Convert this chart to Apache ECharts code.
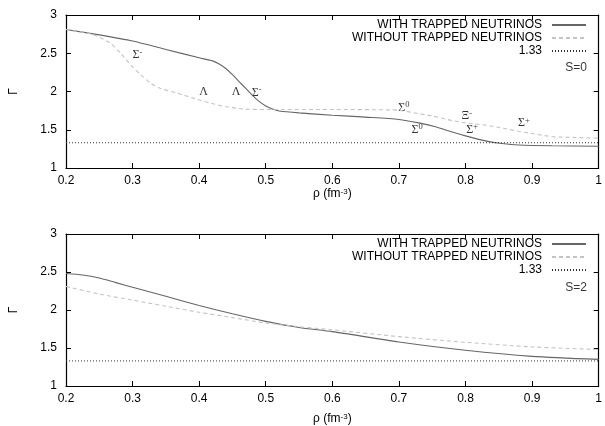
<!DOCTYPE html>
<html><head><meta charset="utf-8">
<script src="https://cdn.jsdelivr.net/npm/echarts@6/dist/echarts.min.js"></script>
<style>html,body{margin:0;padding:0;background:#fff}#c{width:605px;height:426px}</style>
</head><body><div id="c"></div>
<script>
// ---------- data ----------
const seriesNames = ['WITH TRAPPED NEUTRINOS', 'WITHOUT TRAPPED NEUTRINOS', '1.33'];
const refGamma = 1.33;
const xRange = [0.2, 1.0];

// Top panel (S=0)
const topWithRho   = [0.2, 0.25, 0.3, 0.35, 0.4, 0.42, 0.43, 0.44, 0.45, 0.46, 0.47, 0.48, 0.49, 0.5, 0.51, 0.52, 0.55, 0.6, 0.65, 0.7, 0.73, 0.755, 0.78, 0.8, 0.83, 0.855, 0.88, 0.93, 1.0];
const topWithGamma = [2.81, 2.74, 2.66, 2.55, 2.44, 2.40, 2.36, 2.30, 2.22, 2.13, 2.04, 1.95, 1.87, 1.81, 1.77, 1.745, 1.72, 1.69, 1.665, 1.635, 1.59, 1.54, 1.47, 1.42, 1.355, 1.32, 1.30, 1.29, 1.285];
const topWithoutRho   = [0.2, 0.222, 0.242, 0.267, 0.282, 0.297, 0.312, 0.327, 0.342, 0.367, 0.392, 0.416, 0.441, 0.469, 0.5, 0.6, 0.685, 0.7, 0.73, 0.75, 0.78, 0.8, 0.83, 0.85, 0.88, 0.9, 0.93, 0.96, 1.0];
const topWithoutGamma = [2.81, 2.78, 2.74, 2.63, 2.50, 2.35, 2.22, 2.11, 2.04, 1.98, 1.91, 1.85, 1.80, 1.77, 1.765, 1.765, 1.76, 1.755, 1.71, 1.68, 1.62, 1.59, 1.56, 1.53, 1.48, 1.45, 1.41, 1.40, 1.39];
const topAnnBase  = ['Σ', 'Λ', 'Λ', 'Σ', 'Σ', 'Σ', 'Ξ', 'Σ', 'Σ'];
const topAnnSup   = ['-', '', '', '-', '0', '0', '-', '+', '+'];
const topAnnRho   = [0.306, 0.406, 0.455, 0.485, 0.705, 0.725, 0.80, 0.807, 0.885];
const topAnnGamma = [2.48, 2.0, 2.0, 1.985, 1.79, 1.50, 1.68, 1.50, 1.59];
const topTag = {text: 'S=0', rho: 0.966, gamma: 2.31};

// Bottom panel (S=2)
const botWithRho   = [0.2, 0.225, 0.25, 0.275, 0.3, 0.35, 0.4, 0.45, 0.5, 0.55, 0.6, 0.7, 0.8, 0.9, 1.0];
const botWithGamma = [2.48, 2.46, 2.42, 2.36, 2.30, 2.18, 2.06, 1.95, 1.85, 1.77, 1.715, 1.58, 1.47, 1.39, 1.35];
const botWithoutRho   = [0.2, 0.25, 0.3, 0.35, 0.4, 0.45, 0.5, 0.55, 0.6, 0.7, 0.8, 0.9, 1.0];
const botWithoutGamma = [2.31, 2.21, 2.13, 2.05, 1.97, 1.90, 1.83, 1.78, 1.74, 1.65, 1.575, 1.515, 1.48];
const botTag = {text: 'S=2', rho: 0.966, gamma: 2.295};

// ---------- build ----------
const zip = (a, b) => a.map((v, i) => [v, b[i]]);
const FONT = 'Liberation Sans, Arial, sans-serif';
const SERIF = 'Liberation Serif, Times New Roman, serif';

function xAxes(gi, nameGap) {
  const base = {
    type: 'value', gridIndex: gi, min: xRange[0], max: xRange[1], interval: 0.1,
    axisLine: {show: true, onZero: false, lineStyle: {color: '#000', width: 1.2}},
    axisTick: {show: true, inside: true, length: 5, lineStyle: {color: '#000'}},
    splitLine: {show: false}
  };
  return [
    Object.assign({}, base, {
      position: 'bottom',
      axisLabel: {color: '#000', fontSize: 12, fontFamily: FONT, margin: 7},
      name: '{n|ρ (fm}{s|-3}{n|)}', nameLocation: 'middle', nameGap: nameGap,
      nameTextStyle: {rich: {
        n: {fontSize: 12, fontFamily: FONT, color: '#000'},
        s: {fontSize: 8, fontFamily: FONT, color: '#000', verticalAlign: 'top', lineHeight: 8}
      }}
    }),
    Object.assign({}, base, {position: 'top', axisLabel: {show: false}})
  ];
}
function yAxes(gi) {
  const base = {
    type: 'value', gridIndex: gi, min: 1, max: 3, interval: 0.5,
    axisLine: {show: true, onZero: false, lineStyle: {color: '#000', width: 1.2}},
    axisTick: {show: true, inside: true, length: 5, lineStyle: {color: '#000'}},
    splitLine: {show: false}
  };
  return [
    Object.assign({}, base, {
      position: 'left',
      axisLabel: {color: '#000', fontSize: 12, fontFamily: FONT, margin: 9},
      name: 'Γ', nameLocation: 'middle', nameGap: 46,
      nameTextStyle: {fontSize: 12, fontFamily: FONT, color: '#000'}
    }),
    Object.assign({}, base, {position: 'right', axisLabel: {show: false}})
  ];
}

function panelSeries(gi, withD, withoutD, ann, tag) {
  const xi = gi * 2, yi = gi * 2;
  const s = [
    {name: seriesNames[0], type: 'line', xAxisIndex: xi, yAxisIndex: yi, data: withD,
     symbol: 'none', smooth: 0.25,
     lineStyle: {color: '#666', width: 1.1, type: 'solid'}, itemStyle: {color: '#666'}},
    {name: seriesNames[1], type: 'line', xAxisIndex: xi, yAxisIndex: yi, data: withoutD,
     symbol: 'none', smooth: 0.25,
     lineStyle: {color: '#c4c4c4', width: 1.1, type: [4, 3]}, itemStyle: {color: '#c4c4c4'}},
    {name: seriesNames[2], type: 'line', xAxisIndex: xi, yAxisIndex: yi,
     data: [[xRange[0], refGamma], [xRange[1], refGamma]],
     symbol: 'none', lineStyle: {color: '#333', width: 1, type: [1, 2]}, itemStyle: {color: '#333'}},
  ];
  const labelData = [];
  if (ann) {
    ann.base.forEach((b, i) => labelData.push({
      value: [ann.rho[i], ann.gamma[i]],
      label: {formatter: '{g|' + b + '}' + (ann.sup[i] ? '{s|' + ann.sup[i] + '}' : ''), offset: [-4, 0]}
    }));
  }
  labelData.push({value: [tag.rho, tag.gamma],
    label: {formatter: '{t|' + tag.text + '}', align: 'center', offset: [0, 0]}});
  s.push({
    type: 'scatter', xAxisIndex: xi, yAxisIndex: yi, data: labelData, symbolSize: 1,
    itemStyle: {color: 'rgba(0,0,0,0)'}, silent: true,
    label: {show: true, position: 'inside', align: 'left', verticalAlign: 'middle', color: '#000',
      rich: {
        g: {fontSize: 12, fontFamily: SERIF, color: '#000', lineHeight: 14},
        s: {fontSize: 8.5, fontFamily: SERIF, color: '#000', verticalAlign: 'top', lineHeight: 8},
        t: {fontSize: 12, fontFamily: FONT, color: '#000'}
      }}
  });
  return s;
}

const legendBase = {
  orient: 'vertical', right: 18, align: 'right', itemWidth: 34, itemHeight: 8, itemGap: 1,
  padding: 0,
  itemStyle: {color: 'rgba(0,0,0,0)', borderWidth: 0, opacity: 0},
  textStyle: {fontSize: 12, fontFamily: FONT, color: '#000', lineHeight: 12, padding: [0, 5, 0, 0]},
  data: seriesNames, selectedMode: false
};

const option = {
  animation: false,
  backgroundColor: '#fff',
  grid: [
    {left: 65, top: 15, width: 536, height: 153},
    {left: 65, top: 234, width: 536, height: 153}
  ],
  legend: [
    Object.assign({}, legendBase, {top: 19}),
    Object.assign({}, legendBase, {top: 238})
  ],
  xAxis: [...xAxes(0, 19), ...xAxes(1, 27)],
  yAxis: [...yAxes(0), ...yAxes(1)],
  series: [
    ...panelSeries(0, zip(topWithRho, topWithGamma), zip(topWithoutRho, topWithoutGamma),
      {base: topAnnBase, sup: topAnnSup, rho: topAnnRho, gamma: topAnnGamma}, topTag),
    ...panelSeries(1, zip(botWithRho, botWithGamma), zip(botWithoutRho, botWithoutGamma), null, botTag)
  ]
};
const chart = echarts.init(document.getElementById('c'), null, {renderer: 'canvas'});
chart.setOption(option);
</script></body></html>
